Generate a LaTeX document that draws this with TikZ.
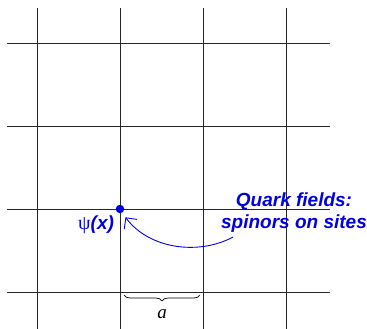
\documentclass[tikz,border=0pt]{standalone}
\usepackage{fontspec}
\setmainfont{Liberation Serif}
\newfontfamily\hv{Liberation Sans}
\usetikzlibrary{decorations.pathreplacing,arrows.meta}
\definecolor{qblue}{RGB}{0,0,225}
\tikzset{
  gridline/.style={draw=black!85, line width=0.9pt},
  sitedot/.style={circle, fill=qblue, inner sep=0pt, minimum size=8.5pt},
  qlabel/.style={text=qblue, font=\hv\bfseries\itshape\fontsize{19}{22}\selectfont, inner sep=0pt},
  qarrow/.style={draw=qblue, line width=0.9pt, shorten >=5.5pt, -{Straight Barb[length=8pt,width=16pt,line width=0.9pt]}},
  bracestyle/.style={decorate, decoration={brace, mirror, amplitude=6pt}, line width=0.7pt},
}
\begin{document}
\begin{tikzpicture}[x=1pt,y=-1pt]
\useasboundingbox (0,0) rectangle (367,329);
\foreach \xx in {37,120,203,286} \draw[gridline] (\xx,8) -- (\xx,329);
\foreach \yy in {43,126,209,292} \draw[gridline] (7,\yy) -- (330,\yy);
\node[sitedot] (site) at (120,209) {};
\node[qlabel, anchor=base west] (psi) at (78,229) {{\fontspec{Liberation Serif}\mdseries\upshape\fontsize{20}{22}\selectfont ψ}(x)};
\node[qlabel, align=center, anchor=base] (qf) at (294,228) {Quark fields:\\spinors on sites};
\coordinate (start) at (233,237);
\draw[qarrow] (start) .. controls (200,255) and (150,250) .. (site.-61);
\coordinate (bl) at (124,295);
\coordinate (br) at (200,295);
\draw[bracestyle] (bl) -- (br);
\node[font=\itshape\fontsize{19}{19}\selectfont, inner sep=0pt, anchor=base] (a) at (162,318) {a};
\end{tikzpicture}
\end{document}
